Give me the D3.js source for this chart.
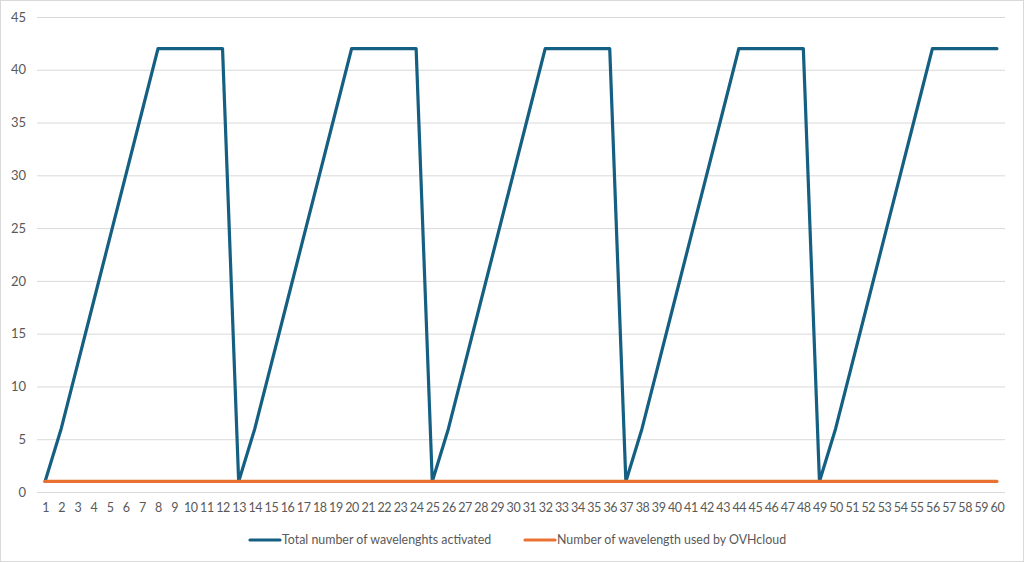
<!DOCTYPE html>
<html><head><meta charset="utf-8">
<script src="https://cdn.jsdelivr.net/npm/d3@7"></script>
<style>body{margin:0;background:#fff;}svg{display:block;}</style>
</head><body>
<svg id="c" width="1024" height="562"></svg>
<script>
const categories = d3.range(1, 61).map(String);
const totalActivated = [1,6,12,18,24,30,36,42,42,42,42,42,
  1,6,12,18,24,30,36,42,42,42,42,42,
  1,6,12,18,24,30,36,42,42,42,42,42,
  1,6,12,18,24,30,36,42,42,42,42,42,
  1,6,12,18,24,30,36,42,42,42,42,42];
const usedByOVH = categories.map(() => 1);
const yTicks = [0,5,10,15,20,25,30,35,40,45];
const seriesNames = ["Total number of wavelenghts activated", "Number of wavelength used by OVHcloud"];
const colors = ["#156082", "#E97132"];

const svg = d3.select("#c");
const font = "Lato, 'Open Sans', sans-serif";
svg.append("rect").attr("x",0.5).attr("y",0.5).attr("width",1023).attr("height",561)
  .attr("fill","#fff").attr("stroke","#D9D9D9").attr("stroke-width",1);

const L = 37, R = 1005, T = 17, B = 492;
const x = d3.scalePoint().domain(categories).range([L, R]).padding(0.5);
const y = d3.scaleLinear().domain([0,45]).range([B, T]);

// gridlines
svg.append("g").selectAll("line").data(yTicks).join("line")
  .attr("x1", L).attr("x2", R).attr("y1", d=>y(d)+0.5).attr("y2", d=>y(d)+0.5)
  .attr("stroke", "#D9D9D9").attr("stroke-width", 1);

// y axis labels
const yAxis = d3.axisLeft(y).tickValues(yTicks).tickSize(0).tickPadding(0);
const gy = svg.append("g").attr("transform", `translate(${L-11},0)`).call(yAxis);
gy.select(".domain").remove();
gy.selectAll("text").attr("fill","#595959").style("font-family",font).style("font-size","13px");

// x axis labels
const xAxis = d3.axisBottom(x).tickSize(0).tickPadding(0);
const gx = svg.append("g").attr("transform", `translate(0,${B+11})`).call(xAxis);
gx.select(".domain").remove();
gx.selectAll("text").attr("fill","#595959").style("font-family",font).style("font-size","12.5px").attr("letter-spacing","-0.4");

const line = d3.line().x((d,i)=>x(categories[i])).y(d=>y(d));
[totalActivated, usedByOVH].forEach((s, k) => {
  svg.append("path").datum(s).attr("d", line).attr("fill","none")
    .attr("stroke", colors[k]).attr("stroke-width", 3.2)
    .attr("stroke-linejoin","round").attr("stroke-linecap","round");
});

// legend
const legX = [250, 525];
seriesNames.forEach((n, k) => {
  const g = svg.append("g").attr("transform", `translate(${legX[k]},540)`);
  g.append("line").attr("x1",0).attr("x2",30).attr("y1",0).attr("y2",0)
    .attr("stroke",colors[k]).attr("stroke-width",3.2).attr("stroke-linecap","round");
  g.append("text").attr("x",32).attr("y",0).attr("dy","0.35em").text(n)
    .attr("fill","#595959").style("font-family",font).style("font-size","12.4px");
});
</script>
</body></html>
